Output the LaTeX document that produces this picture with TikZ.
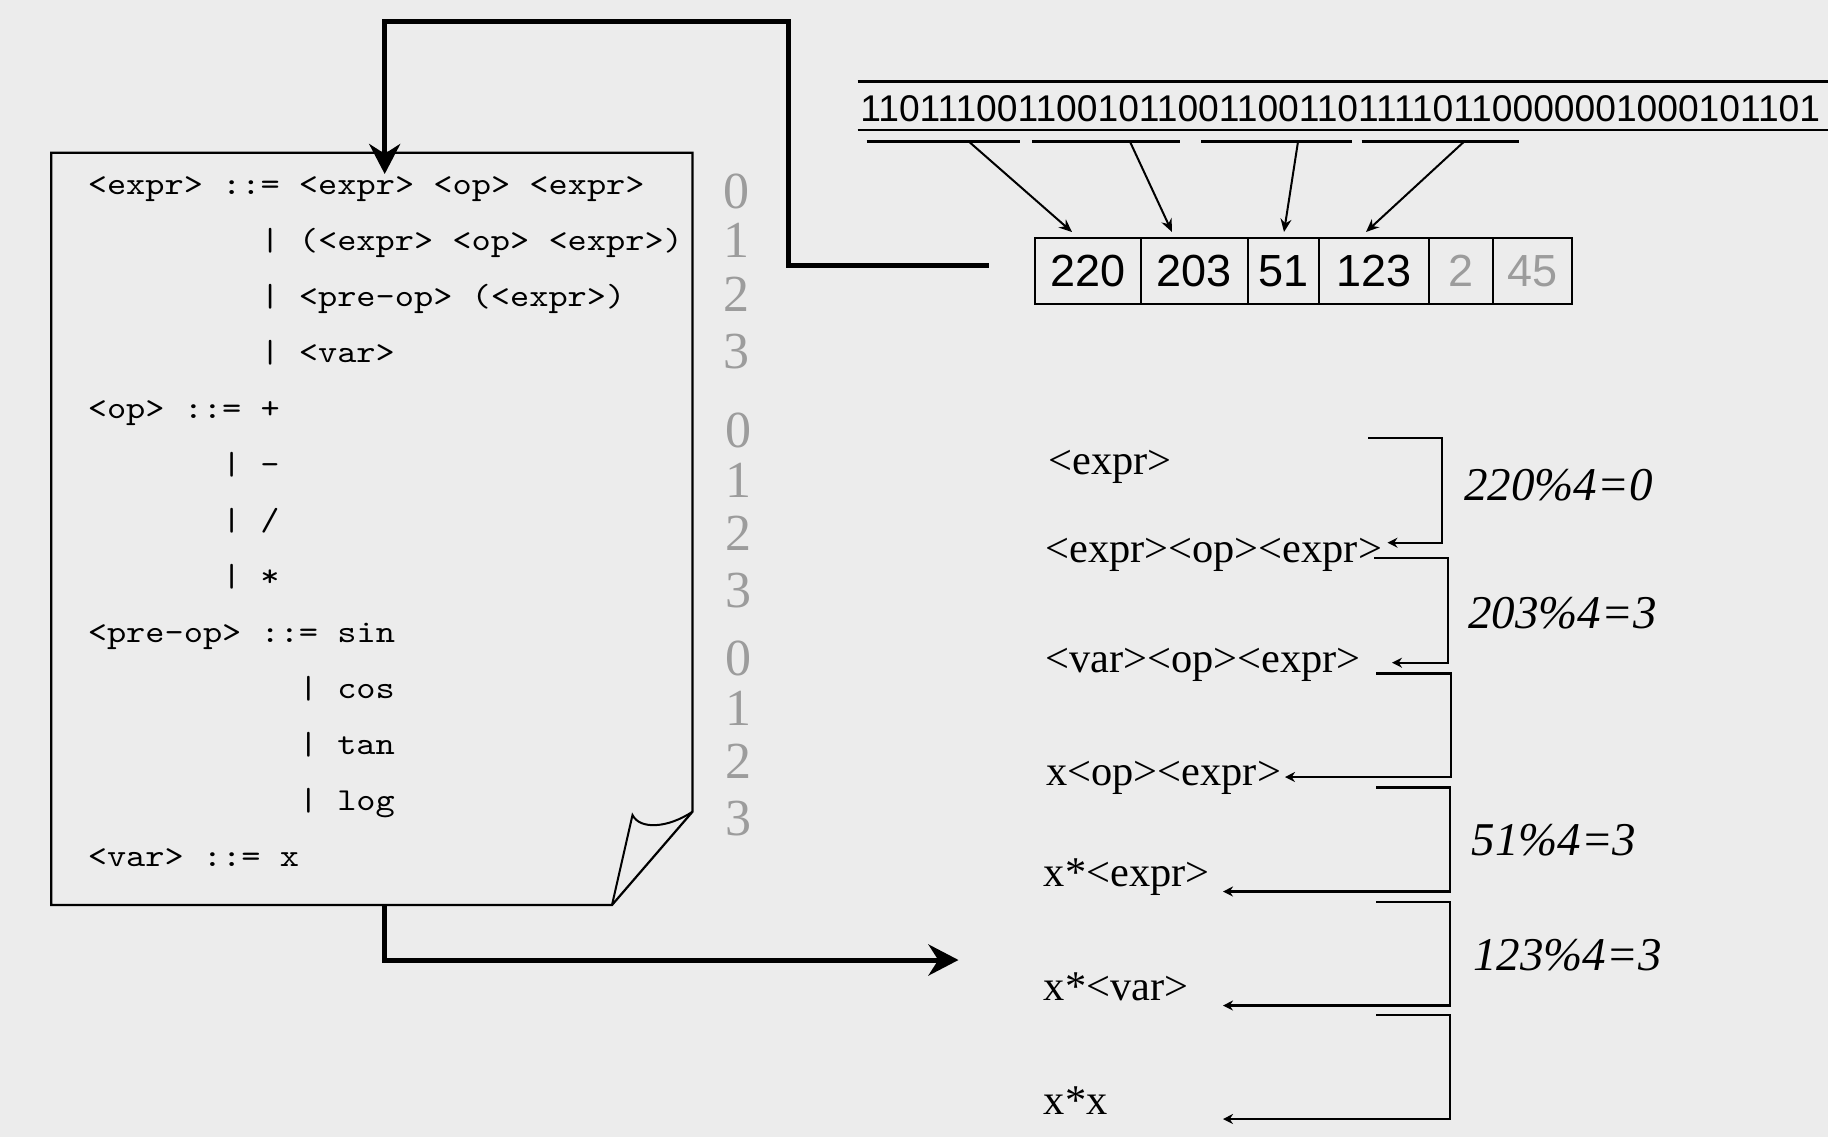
\documentclass[tikz,border=0pt]{standalone}
\usepackage{fontspec}
\usetikzlibrary{arrows.meta}
\newfontfamily\gramfont{lmmono10-regular.otf}[FakeStretch=1.143,WordSpace={1,0,0}]
\newfontfamily\sansf{Liberation Sans}
\newfontfamily\seriff{Liberation Serif}
\definecolor{bgc}{HTML}{ECECEC}
\definecolor{numgray}{HTML}{9C9C9C}
\begin{document}
\begin{tikzpicture}[x=0.5pt,y=-0.5pt,
  line join=miter,
  gram/.style={anchor=base west, inner sep=0pt, font=\gramfont\fontsize{16pt}{16pt}\selectfont},
  idx/.style={anchor=base, inner sep=0pt, text=numgray, font=\seriff\fontsize{26pt}{26pt}\selectfont},
  cell/.style={draw, line width=1pt, inner sep=0pt, minimum height=33.15pt, font=\sansf\fontsize{22.5pt}{22.5pt}\selectfont},
  graycell/.style={cell, text=numgray},
  deriv/.style={anchor=base west, inner sep=0pt, font=\seriff\fontsize{21.2pt}{21.2pt}\selectfont},
  modlbl/.style={inner sep=0pt, font=\seriff\itshape\fontsize{23.5pt}{23.5pt}\selectfont},
  bigarrow/.style={line width=2.5pt, -{Stealth[length=15pt,width=15.5pt]}},
  smallarrow/.style={line width=1pt, -{Stealth[length=6.5pt,width=5.5pt]}},
  brk/.style={line width=1.1pt, -{Stealth[length=5pt,width=5pt]}},
  docline/.style={line width=1.1pt},
  binline/.style={line width=1.3pt}
]
\fill[bgc] (0,0) rectangle (1828,1137);
\useasboundingbox (0,0) rectangle (1828,1137);

% grammar document
\draw[docline] (51.3,152.7) -- (692.5,152.7) -- (692.5,811.7) -- (612,905) -- (51.3,905) -- cycle;
\draw[line width=1pt] (612,905) -- (632.5,815) .. controls (640,830) and (668,828) .. (692.5,811.7);

\node[gram] (g1) at (87.4,194) {<expr> ::= <expr> <op> <expr>};
\node[gram] (g2) at (260.1,250) {| (<expr> <op> <expr>)};
\node[gram] (g3) at (260.1,306) {| <pre-op> (<expr>)};
\node[gram] (g4) at (260.1,362) {| <var>};
\node[gram] (g5) at (87.4,418) {<op> ::= +};
\node[gram] (g6) at (221.7,474) {| -};
\node[gram] (g7) at (221.7,530) {| /};
\node[gram] (g8) at (221.7,586) {| *};
\node[gram] (g9) at (87.4,642) {<pre-op> ::= sin};
\node[gram] (g10) at (298.5,698) {| cos};
\node[gram] (g11) at (298.5,754) {| tan};
\node[gram] (g12) at (298.5,810) {| log};
\node[gram] (g13) at (87.4,866) {<var> ::= x};

% index numbers
\node[idx] (i1) at (736,208) {0};
\node[idx] (i2) at (736,257) {1};
\node[idx] (i3) at (736,311) {2};
\node[idx] (i4) at (736,368) {3};
\node[idx] (i5) at (738,447) {0};
\node[idx] (i6) at (738,497) {1};
\node[idx] (i7) at (738,550) {2};
\node[idx] (i8) at (738,607) {3};
\node[idx] (i9) at (738,675) {0};
\node[idx] (i10) at (738,725) {1};
\node[idx] (i11) at (738,778) {2};
\node[idx] (i12) at (738,835) {3};

% binary string
\node[anchor=west, inner sep=0pt, font=\sansf\fontsize{18.6pt}{18.6pt}\selectfont] (bin) at (860,108.4) {110111001100101100110011011110110000001000101101};
\draw[binline] (857.6,81.7) -- (1828,81.7);
\draw[binline] (857.6,130) -- (1828,130);
\draw[binline] (866.5,141.7) -- (1019.6,141.7);
\draw[binline] (1032,141.7) -- (1180,141.7);
\draw[binline] (1201,141.7) -- (1351.7,141.7);
\draw[binline] (1361.7,141.7) -- (1518.6,141.7);

% cells
\node[cell, minimum width=52.65pt] (c1) at (1087.95,271.15) {220};
\node[cell, minimum width=53.85pt] (c2) at (1194.45,271.15) {203};
\node[cell, minimum width=35.3pt] (c3) at (1283.6,271.15) {51};
\node[cell, minimum width=54.8pt] (c4) at (1373.7,271.15) {123};
\node[graycell, minimum width=32.15pt] (c5) at (1460.65,271.15) {2};
\node[graycell, minimum width=39.6pt] (c6) at (1532.4,271.15) {45};

\coordinate (s1) at (969,141.7);
\coordinate (s2) at (1130,141.7);
\coordinate (s3) at (1298,141.7);
\coordinate (s4) at (1464,141.7);
\coordinate (t1) at (1072,232);
\coordinate (t2) at (1172,232);
\coordinate (t3) at (1284,232);
\coordinate (t4) at (1366,232);
\draw[smallarrow] (s1) -- (t1);
\draw[smallarrow] (s2) -- (t2);
\draw[smallarrow] (s3) -- (t3);
\draw[smallarrow] (s4) -- (t4);

% big connectors
\coordinate (cstart) at (988.6,265.8);
\coordinate (gtop) at (384.7,174);
\coordinate (gbot) at (384.7,905);
\coordinate (dstart) at (958.5,960);
\draw[bigarrow] (cstart) -- (788,265.8) -- (788,21) -- (384.7,21) -- (gtop);
\draw[bigarrow] (gbot) -- (384.7,960) -- (dstart);

% derivation
\node[deriv] (d1) at (1048,474) {<expr>};
\node[deriv] (d2) at (1045,562) {<expr><op><expr>};
\node[deriv] (d3) at (1045,672) {<var><op><expr>};
\node[deriv] (d4) at (1046,785) {x<op><expr>};
\node[deriv] (d5) at (1043.5,886) {x*<expr>};
\node[deriv] (d6) at (1043.5,1000.7) {x*<var>};
\node[deriv] (d7) at (1043.5,1114) {x*x};

\coordinate (b1s) at (1368,438.3);  \coordinate (b1e) at (1387.5,542.7);
\coordinate (b2s) at (1374,558.3);  \coordinate (b2e) at (1392,662.7);
\coordinate (b3s) at (1376,673.5);  \coordinate (b3e) at (1285,777);
\coordinate (b4s) at (1376,787.5);  \coordinate (b4e) at (1223,891.5);
\coordinate (b5s) at (1376,902);    \coordinate (b5e) at (1223,1005.5);
\coordinate (b6s) at (1376,1015);   \coordinate (b6e) at (1223,1119);
\draw[brk] (b1s) -- (1442,438.3) -- (1442,542.7) -- (b1e);
\draw[brk] (b2s) -- (1447.8,558.3) -- (1447.8,662.7) -- (b2e);
\draw[brk] (b3s) -- (1451,673.5) -- (1451,777) -- (b3e);
\draw[brk] (b4s) -- (1450,787.5) -- (1450,891.5) -- (b4e);
\draw[brk] (b5s) -- (1450,902) -- (1450,1005.5) -- (b5e);
\draw[brk] (b6s) -- (1450,1015) -- (1450,1119) -- (b6e);

\node[modlbl] (m1) at (1558.5,485.5) {220\%4=0};
\node[modlbl] (m2) at (1562.5,613.5) {203\%4=3};
\node[modlbl] (m3) at (1554,840) {51\%4=3};
\node[modlbl] (m4) at (1567.5,955) {123\%4=3};
\end{tikzpicture}
\end{document}
